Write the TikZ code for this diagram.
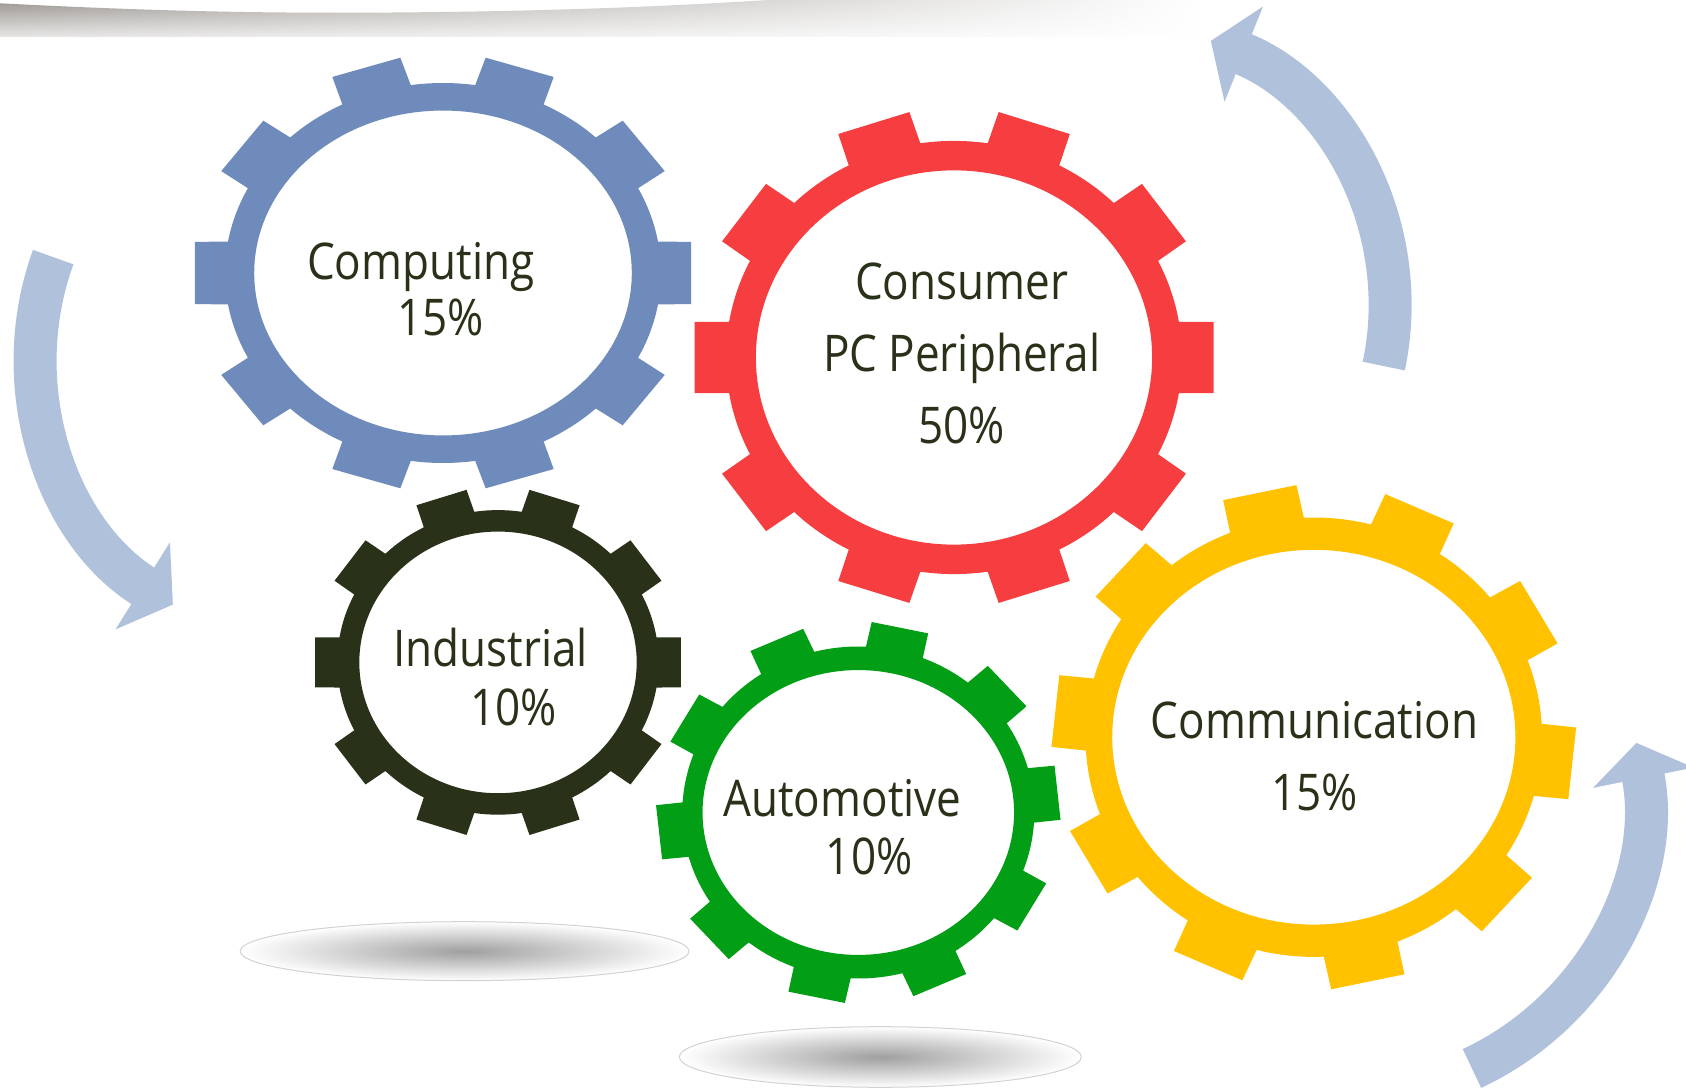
\documentclass[tikz,border=0pt]{standalone}
\usepackage{fontspec}
\newfontfamily\gearfont{Open Sans}[FakeStretch=0.87]
\usetikzlibrary{arrows.meta,fadings}

\definecolor{compblue}{RGB}{111,139,188}
\definecolor{consred}{RGB}{246,62,64}
\definecolor{indolive}{RGB}{42,49,25}
\definecolor{autogreen}{RGB}{2,158,22}
\definecolor{commyellow}{RGB}{255,193,0}
\definecolor{flowblue}{RGB}{176,193,220}
\definecolor{shadowgray}{RGB}{150,145,140}
\definecolor{shadowpale}{RGB}{232,231,230}

\tikzfading[name=bandfade, left color=transparent!0, middle color=transparent!10, right color=transparent!100]

% centre, x radius, y radius, turn, hole x, hole y, colour
\newcommand{\drawgear}[7]{%
  \begin{scope}[shift={#1}, xscale=#2, yscale=#3]
    \fill[#7, even odd rule] ({#4-9.5}:1)
      \foreach \k in {0,...,9}{
        -- ({#4+36*\k-8.2}:1.15) -- ({#4+36*\k+8.2}:1.15) -- ({#4+36*\k+9.5}:1)
        arc[start angle={#4+36*\k+9.5}, end angle={#4+36*\k+26.5}, radius=1]
      } -- cycle
      (0,0) ellipse[x radius=#5, y radius=#6];
  \end{scope}
}

\tikzset{
  gearlabel/.style={font=\gearfont\fontsize{25.3pt}{30pt}\selectfont, text=indolive, inner sep=0pt, anchor=base},
  flow/.style={draw=flowblue, line width=21.5pt, -{Triangle[length=17.75pt, width=50.5pt]}},
  groundshadow/.style={draw=gray!35, line width=0.5pt, inner color=gray!75, outer color=white},
}

\begin{document}
\begin{tikzpicture}[x=0.5pt, y=0.5pt]
  \useasboundingbox (0,0) rectangle (1686,1088);
  \fill[white] (0,0) rectangle (1686,1088);

  % shadow of the top band
  \shade[top color=shadowgray, bottom color=shadowpale, path fading=bandfade]
    (0,1051) -- (0,1084.7) .. controls (150,1077) and (250,1075) .. (360,1075.3)
    .. controls (520,1076) and (650,1080) .. (800,1090) -- (1200,1090) -- (1200,1051) -- cycle;

  % shadows on the floor
  \shade[groundshadow] (464.6,136.8) ellipse[x radius=224.4, y radius=29.5];
  \shade[groundshadow] (880.3,31) ellipse[x radius=201, y radius=30.3];

  % turning arrows
  \coordinate (leftpivot) at (327.6,731);
  \coordinate (toppivot) at (1103.5,781.5);
  \coordinate (lowpivot) at (1347.3,286.8);
  \draw[flow] ([shift={(160:292)}]leftpivot) arc[start angle=160, end angle=238, radius=292];
  \draw[flow] ([shift={(-12:286.5)}]toppivot) arc[start angle=-12, end angle=68, radius=286.5];
  \draw[flow] ([shift={(-65:294.9)}]lowpivot) arc[start angle=-65, end angle=11.4, radius=294.9];

  % gears
  \coordinate (computing) at (443,815);
  \coordinate (consumer) at (954,730.5);
  \coordinate (industrial) at (498,425.6);
  \coordinate (automotive) at (858.3,275.5);
  \coordinate (communication) at (1313.8,350.8);
  \drawgear{(computing)}{218}{190}{0}{0.866}{0.855}{compblue}
  \drawgear{(consumer)}{228}{216.6}{0}{0.869}{0.864}{consred}
  \drawgear{(industrial)}{160.7}{152.3}{0}{0.863}{0.859}{indolive}
  \drawgear{(automotive)}{176}{166}{6}{0.885}{0.858}{autogreen}
  \drawgear{(communication)}{228.3}{219.7}{-6}{0.883}{0.853}{commyellow}

  % labels
  \node[gearlabel] (computing-name) at (420.7,808.7) {Computing};
  \node[gearlabel] (computing-share) at (440.6,752.1) {15\%};
  \node[gearlabel] (consumer-name) at (961.6,788) {Consumer};
  \node[gearlabel] (consumer-kind) at (961.8,716.3) {PC Peripheral};
  \node[gearlabel] (consumer-share) at (961.6,644.4) {50\%};
  \node[gearlabel] (industrial-name) at (490.8,421.3) {Industrial};
  \node[gearlabel] (industrial-share) at (513.3,363) {10\%};
  \node[gearlabel] (automotive-name) at (842.5,271.3) {Automotive};
  \node[gearlabel] (automotive-share) at (869.2,214) {10\%};
  \node[gearlabel] (communication-name) at (1314.5,349.4) {Communication};
  \node[gearlabel] (communication-share) at (1314.9,277.1) {15\%};
\end{tikzpicture}
\end{document}
